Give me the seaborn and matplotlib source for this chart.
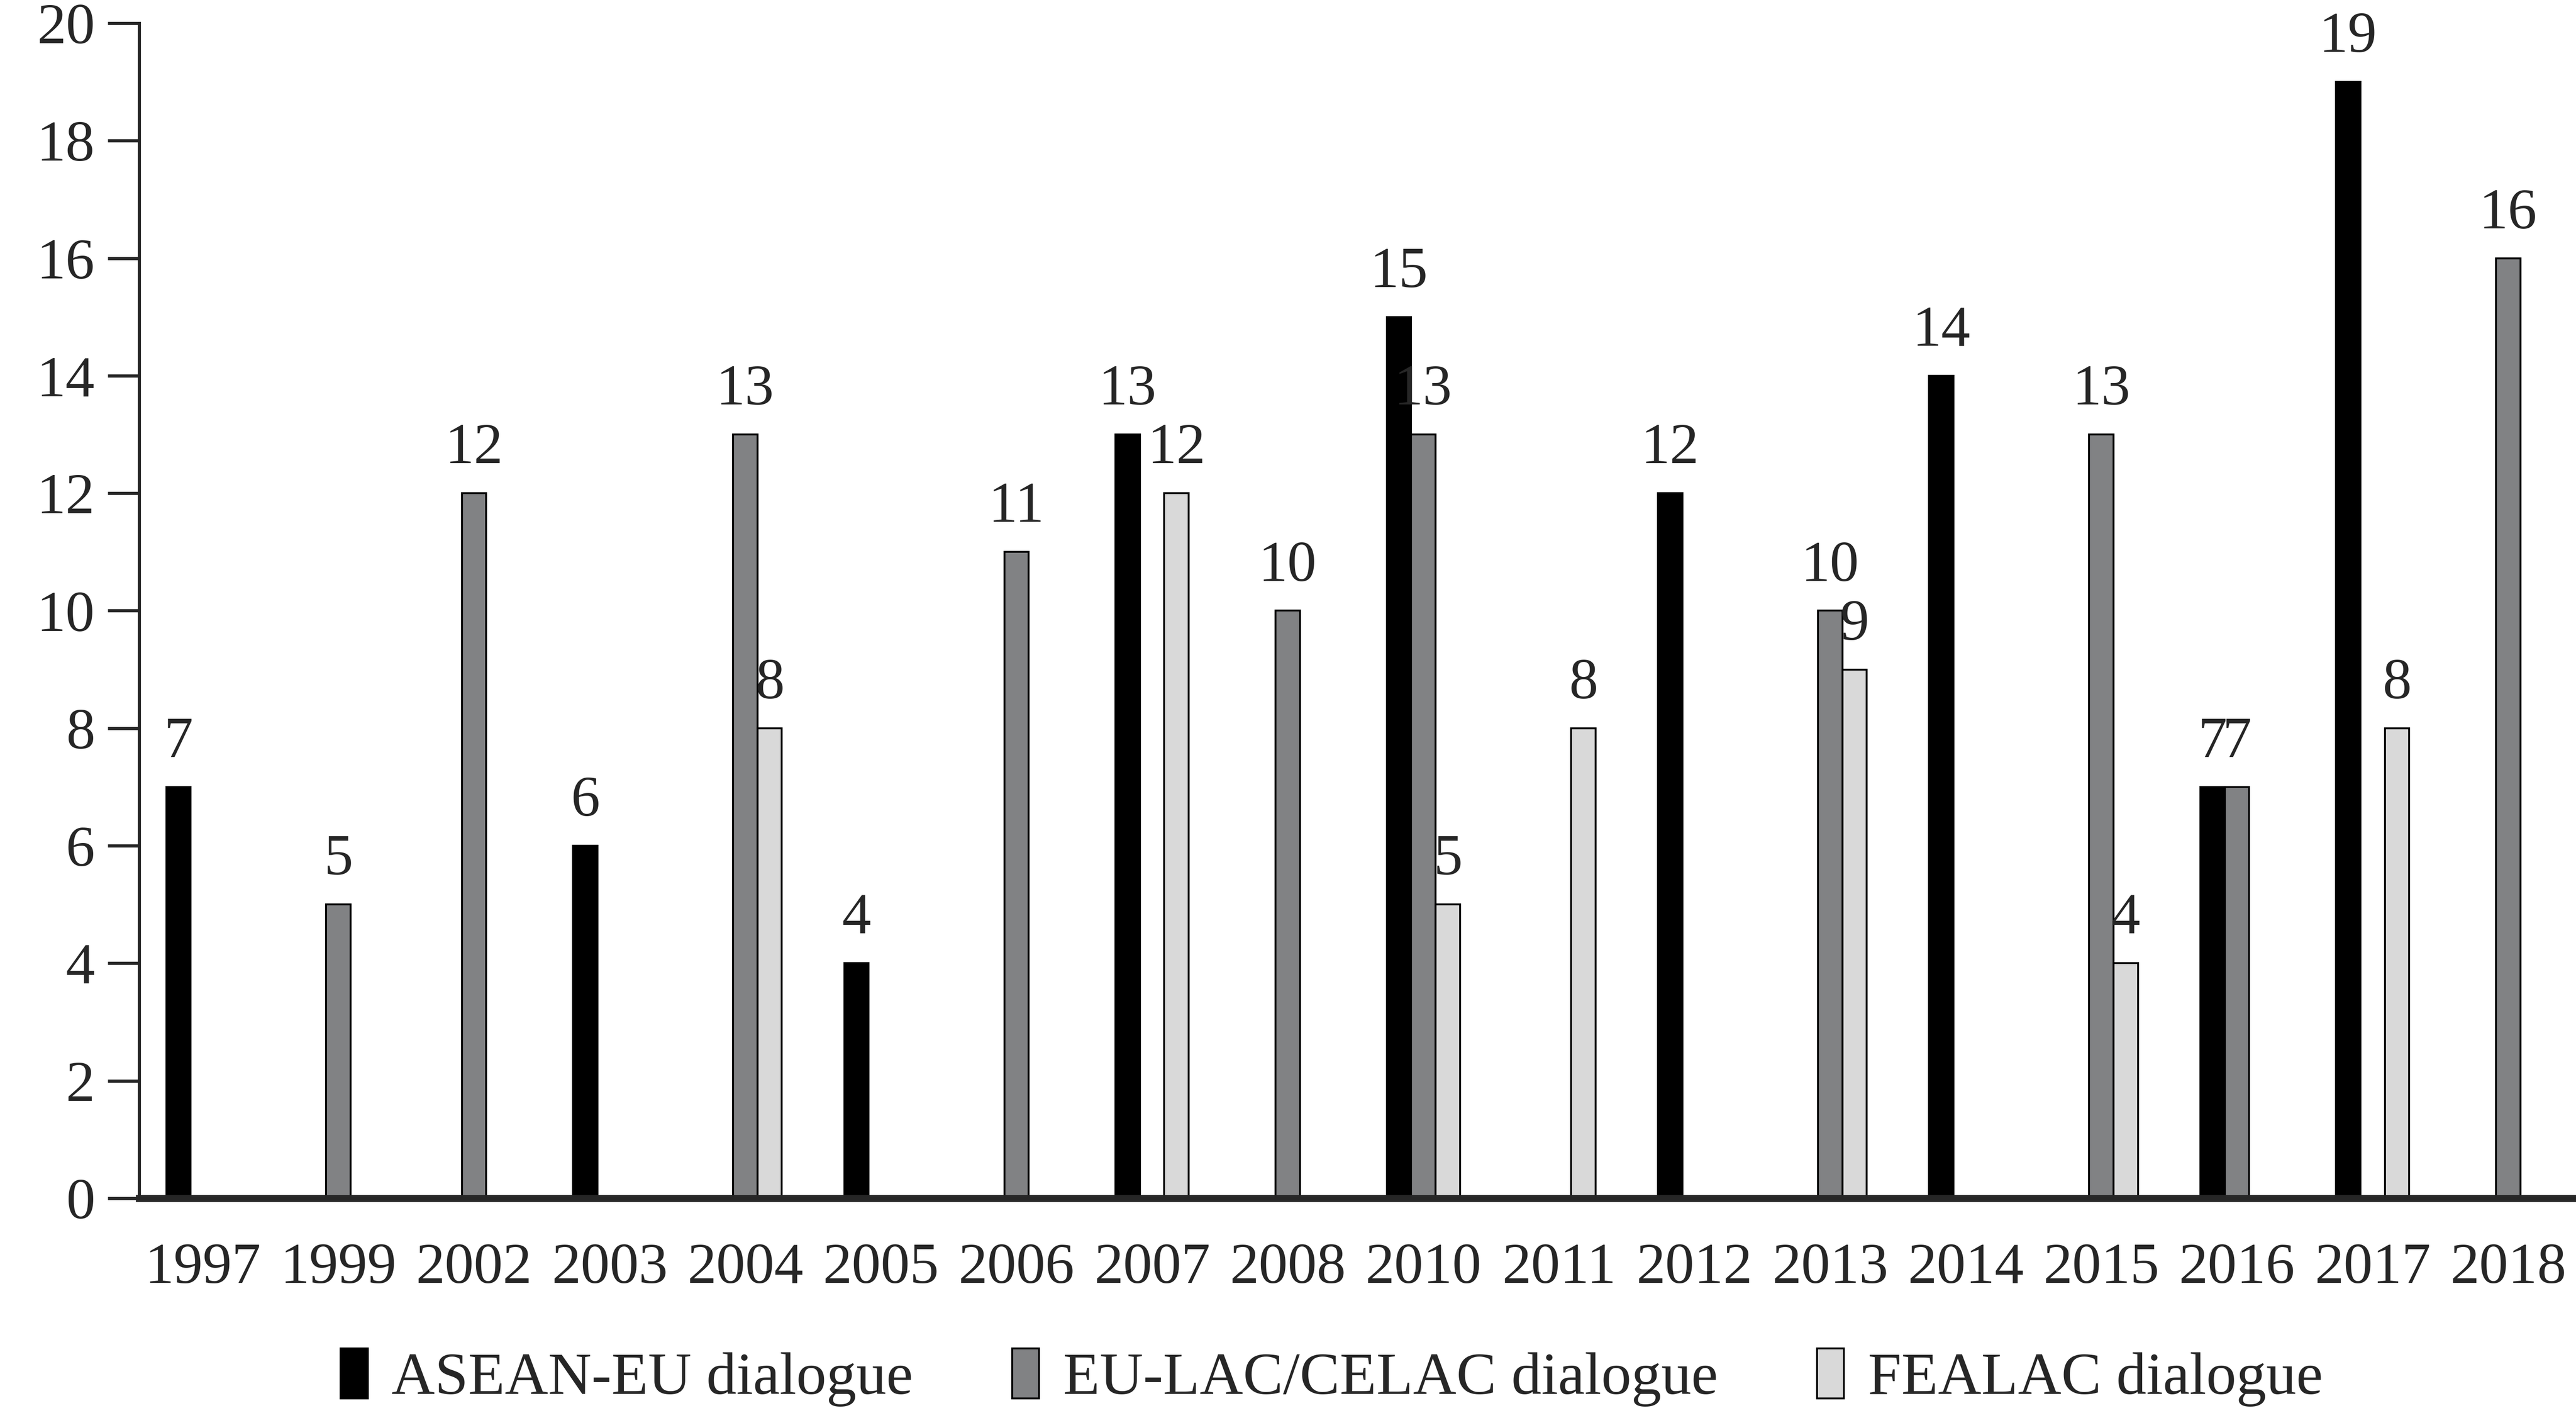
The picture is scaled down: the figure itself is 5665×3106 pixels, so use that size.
import pandas as pd
import numpy as np
import seaborn as sns
import matplotlib.pyplot as plt

# Data
years = ["1997", "1999", "2002", "2003", "2004", "2005", "2006", "2007", "2008",
         "2010", "2011", "2012", "2013", "2014", "2015", "2016", "2017", "2018"]
asean_eu = [7, None, None, 6, None, 4, None, 13, None, 15, None, 12, None, 14, None, 7, 19, None]
eu_lac = [None, 5, 12, None, 13, None, 11, None, 10, 13, None, None, 10, None, 13, 7, None, 16]
fealac = [None, None, None, None, 8, None, None, 12, None, 5, 8, None, 9, None, 4, None, 8, None]
series_names = ["ASEAN-EU dialogue", "EU-LAC/CELAC dialogue", "FEALAC dialogue"]
colors = ["#000000", "#808285", "#d9d9d9"]

rows = []
for name, vals in zip(series_names, [asean_eu, eu_lac, fealac]):
    for y, v in zip(years, vals):
        rows.append({"year": y, "series": name, "value": v})
df = pd.DataFrame(rows)

sns.set_style("white")
plt.rcParams["font.family"] = ["Liberation Serif", "DejaVu Serif"]

fig = plt.figure(figsize=(56.65, 31.06), dpi=100)
ax = fig.add_axes([0.054, 0.152, 0.946, 0.8316])

sns.barplot(data=df, x="year", y="value", hue="series", order=years,
            hue_order=series_names, palette=colors, width=0.54,
            edgecolor="black", linewidth=3, ax=ax, legend=True)

for cont in ax.containers:
    labels = [("%g" % b.get_height()) if b.get_height() > 0 else "" for b in cont]
    ax.bar_label(cont, labels=labels, padding=28, fontsize=92)

ax.set_ylim(0, 20)
ax.set_xlim(-0.47, 17.5)
ax.set_yticks(range(0, 21, 2))
ax.set_xlabel("")
ax.set_ylabel("")

sns.despine(ax=ax, top=True, right=True)
ax.spines["left"].set_linewidth(5)
ax.spines["left"].set_bounds(0, 20)
ax.spines["bottom"].set_linewidth(11)
ax.tick_params(axis="y", direction="out", length=50, width=5, pad=20, labelsize=92, left=True)
ax.tick_params(axis="x", length=0, pad=70, labelsize=92)

handles, labels = ax.get_legend_handles_labels()
ax.get_legend().remove()
fig.legend(handles, labels, loc="center", bbox_to_anchor=(0.517, 0.025),
           ncol=3, frameon=False, fontsize=95, handlelength=0.45, handleheight=0.9,
           handletextpad=0.4, columnspacing=1.65)

plt.savefig("out.png", dpi=100)
